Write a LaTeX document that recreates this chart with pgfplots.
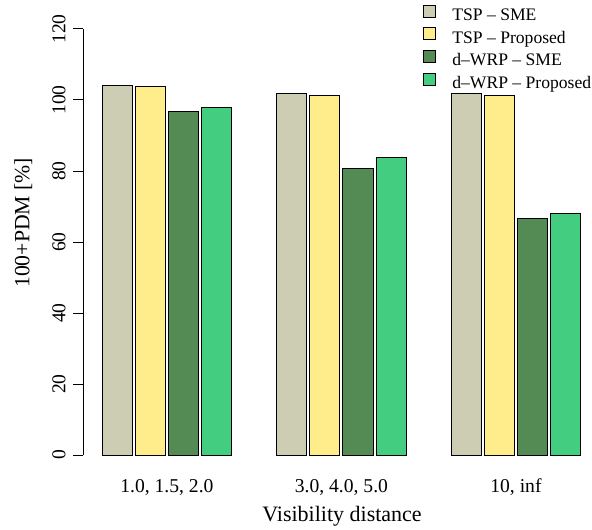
\documentclass[border=0pt]{standalone}
\usepackage{fontspec}
\setmainfont{Liberation Serif}
\usepackage{pgfplots}
\pgfplotsset{compat=1.18}
\definecolor{cTSPsme}{RGB}{205,205,180}
\definecolor{cTSPprop}{RGB}{255,236,139}
\definecolor{cWRPsme}{RGB}{84,139,84}
\definecolor{cWRPprop}{RGB}{67,205,128}
\begin{document}
\begin{tikzpicture}
\path[use as bounding box] (0,0) rectangle (444pt,396.75pt);
\begin{axis}[
  at={(62.475pt,55.5pt)}, anchor=south west,
  scale only axis, width=381.5pt, height=319.5pt,
  xmin=-1.13, xmax=15.776, ymin=0, ymax=120,
  clip=false,
  axis lines*=left,
  axis line style={-, line width=0.75pt},
  x axis line style={draw=none},
  xtick={1.65,7.45,13.25},
  xticklabels={{1.0, 1.5, 2.0},{3.0, 4.0, 5.0},{10, inf}},
  xtick style={draw=none},
  ytick={0,20,40,60,80,100,120},
  tick align=outside,
  major tick length=7.5pt,
  ytick style={line width=0.75pt, black},
  /pgf/number format/assume math mode=true,
  xticklabel style={font=\fontsize{14.7}{17}\selectfont, anchor=base, yshift=-20.5pt},
  yticklabel style={font=\fontsize{14.7}{17}\selectfont, xshift=-6pt, rotate=90, anchor=base},
  xlabel={Visibility distance},
  xlabel style={font=\fontsize{16.5}{19}\selectfont, at={(axis cs:7.47,0)}, anchor=base, yshift=-49.5pt},
  ylabel={100+PDM [\%]},
  ylabel style={font=\fontsize{16.3}{19}\selectfont, at={(axis cs:-1.13,65.4)}, anchor=base, yshift=40.5pt},
  legend style={draw=none, fill=none, inner sep=0pt, outer sep=0pt,
    at={(axis cs:10.15,126.8)}, anchor=north west,
    font=\fontsize{13.2}{15}\selectfont,
    nodes={inner sep=0pt, text height=9pt, text depth=3pt},
    row sep=2.05pt, column sep=12.5pt},
  legend cell align=left,
  legend image code/.code={\draw[#1, draw=black, line width=0.75pt] (0pt,-0.5pt) rectangle (9pt,8.5pt);},
]
\addplot[ybar, bar width=1, bar shift=0pt, fill=cTSPsme, draw=black, line width=0.75pt]
  coordinates {(0,104.0) (5.8,101.7) (11.6,101.8)};
\addplot[ybar, bar width=1, bar shift=0pt, fill=cTSPprop, draw=black, line width=0.75pt]
  coordinates {(1.1,103.7) (6.9,101.4) (12.7,101.4)};
\addplot[ybar, bar width=1, bar shift=0pt, fill=cWRPsme, draw=black, line width=0.75pt]
  coordinates {(2.2,96.8) (8.0,80.8) (13.8,66.7)};
\addplot[ybar, bar width=1, bar shift=0pt, fill=cWRPprop, draw=black, line width=0.75pt]
  coordinates {(3.3,98.0) (9.1,83.9) (14.9,68.0)};
\legend{TSP -- SME, TSP -- Proposed, d--WRP -- SME, d--WRP -- Proposed}
\end{axis}
\end{tikzpicture}
\end{document}
